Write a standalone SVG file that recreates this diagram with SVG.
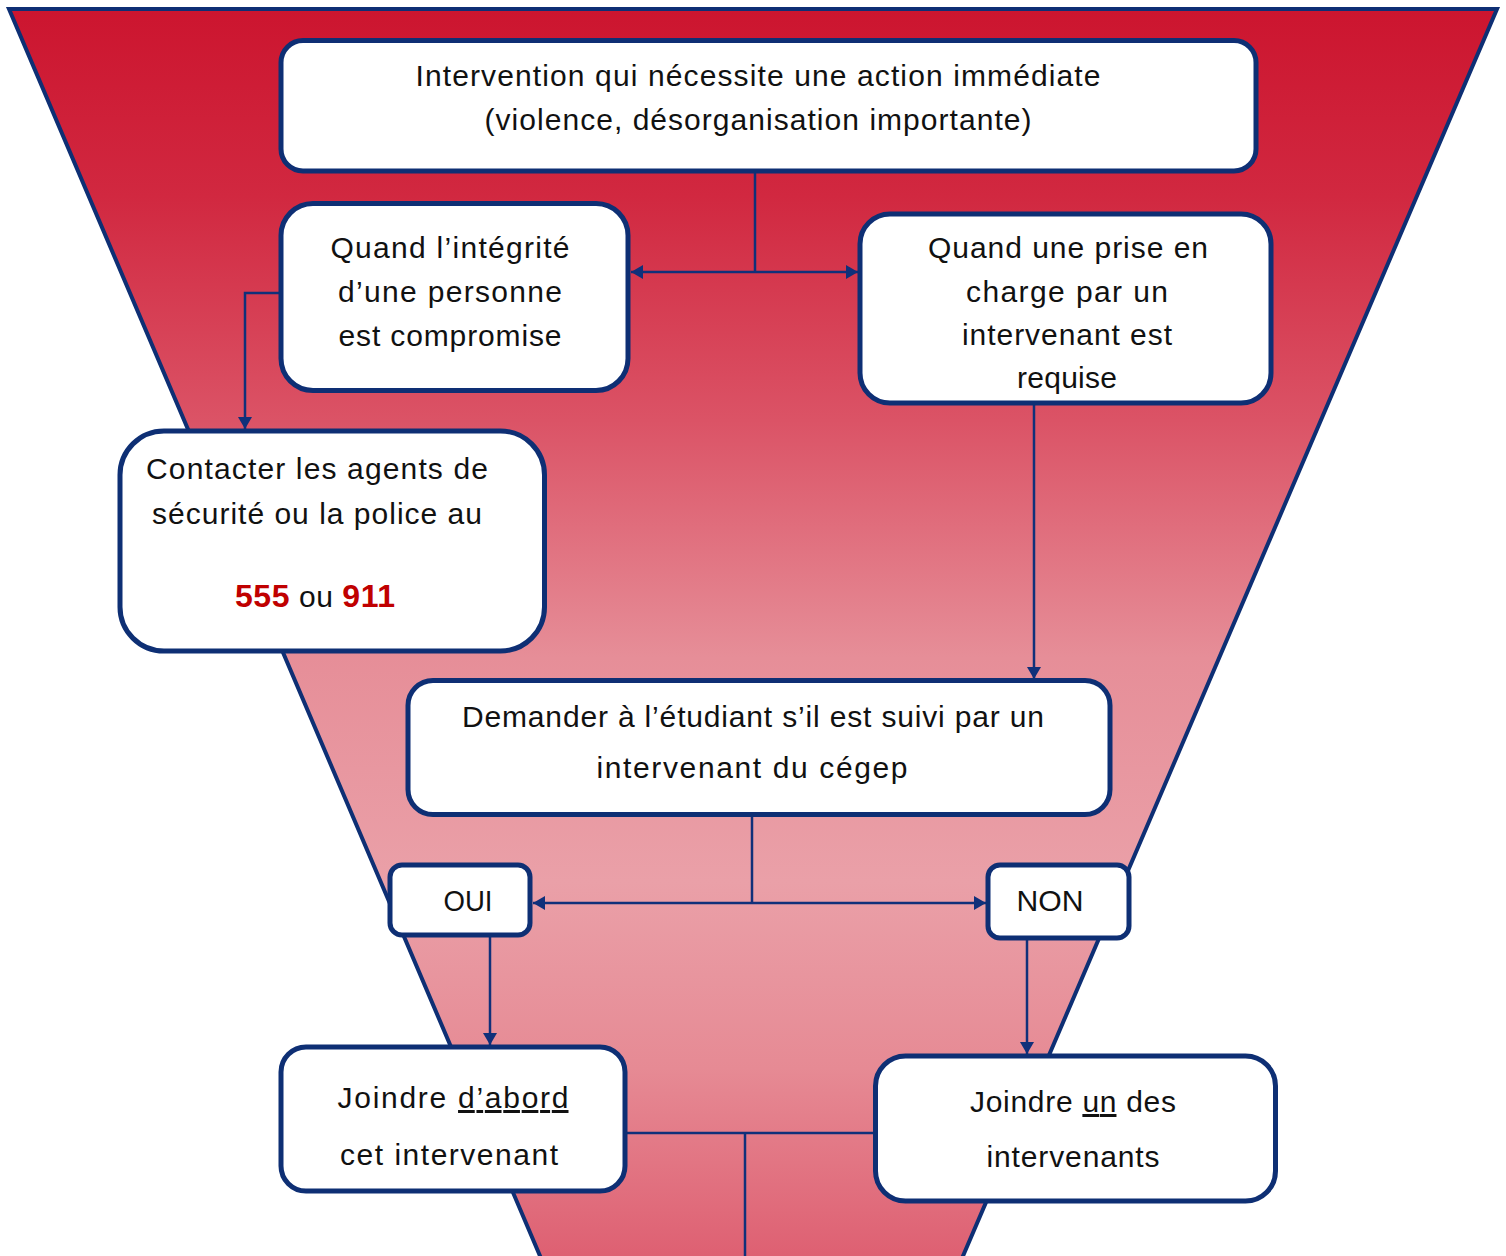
<svg xmlns="http://www.w3.org/2000/svg" width="1506" height="1256" viewBox="0 0 1506 1256">
<defs>
<linearGradient id="funnelGrad" gradientUnits="userSpaceOnUse" x1="0" y1="9" x2="0" y2="1256">
<stop offset="0" stop-color="#CC152F"/>
<stop offset="0.15" stop-color="#D12840"/>
<stop offset="0.33" stop-color="#DB5366"/>
<stop offset="0.52" stop-color="#E68E98"/>
<stop offset="0.7" stop-color="#EAA0A8"/>
<stop offset="0.85" stop-color="#E68A94"/>
<stop offset="1" stop-color="#DE6072"/>
</linearGradient>
<marker id="arrow" markerUnits="userSpaceOnUse" markerWidth="14" markerHeight="14" refX="12" refY="7" orient="auto">
<path d="M0,0 L12,7 L0,14 Z" fill="#10307A"/>
</marker>
</defs>
<style>
.box{fill:#FFFFFF;stroke:#0E2F74;stroke-width:5}
.conn{fill:none;stroke:#10307A;stroke-width:2.5}
.t{font-family:"Liberation Sans",Arial,sans-serif;font-size:30px;fill:#111111;text-anchor:middle}
.yn{font-family:"Liberation Sans",Arial,sans-serif;font-size:29px;fill:#111111;text-anchor:middle}
.num{font-family:"Liberation Sans",Arial,sans-serif;font-size:32px;font-weight:bold;fill:#C00000}
</style>
<path id="funnel" d="M9,9 L1497,9 L957,1270 L546,1270 Z" fill="url(#funnelGrad)" stroke="#0E2F74" stroke-width="4" stroke-linejoin="miter"/>
<g id="connectors">
<path class="conn" d="M755,171 V272"/>
<path class="conn" d="M755,272 H631" marker-end="url(#arrow)"/>
<path class="conn" d="M755,272 H858" marker-end="url(#arrow)"/>
<path class="conn" d="M281,293 H245 V429" marker-end="url(#arrow)"/>
<path class="conn" d="M1034,404 V679" marker-end="url(#arrow)"/>
<path class="conn" d="M752,815 V903"/>
<path class="conn" d="M752,903 H533" marker-end="url(#arrow)"/>
<path class="conn" d="M752,903 H986" marker-end="url(#arrow)"/>
<path class="conn" d="M490,937 V1045" marker-end="url(#arrow)"/>
<path class="conn" d="M1027,940 V1054" marker-end="url(#arrow)"/>
<path class="conn" d="M625,1133 H875"/>
<path class="conn" d="M745,1133 V1260"/>
</g>
<g id="node-intervention">
<rect class="box" x="281" y="40.5" width="975" height="130.5" rx="22"/>
<text class="t" x="758" y="86" textLength="685" lengthAdjust="spacing">Intervention qui nécessite une action immédiate</text>
<text class="t" x="758" y="130" textLength="547" lengthAdjust="spacing">(violence, désorganisation importante)</text>
</g>
<g id="node-integrite">
<rect class="box" x="281" y="203.5" width="347" height="187" rx="32"/>
<text class="t" x="450" y="258" textLength="239" lengthAdjust="spacing">Quand l’intégrité</text>
<text class="t" x="450" y="302" textLength="224" lengthAdjust="spacing">d’une personne</text>
<text class="t" x="450" y="346" textLength="223" lengthAdjust="spacing">est compromise</text>
</g>
<g id="node-prise-en-charge">
<rect class="box" x="860" y="214" width="411" height="189" rx="30"/>
<text class="t" x="1068" y="258" textLength="280" lengthAdjust="spacing">Quand une prise en</text>
<text class="t" x="1067" y="302" textLength="202" lengthAdjust="spacing">charge par un</text>
<text class="t" x="1067" y="345" textLength="210" lengthAdjust="spacing">intervenant est</text>
<text class="t" x="1067" y="388" textLength="100" lengthAdjust="spacing">requise</text>
</g>
<g id="node-contacter">
<rect class="box" x="120" y="431" width="424.5" height="220" rx="44"/>
<text class="t" x="317" y="479" textLength="342" lengthAdjust="spacing">Contacter les agents de</text>
<text class="t" x="317" y="524" textLength="330" lengthAdjust="spacing">sécurité ou la police au</text>
<text class="t" x="315" y="607" textLength="160" lengthAdjust="spacing"><tspan class="num">555</tspan> ou <tspan class="num">911</tspan></text>
</g>
<g id="node-demander">
<rect class="box" x="408" y="680.5" width="702" height="134" rx="25"/>
<text class="t" x="753" y="727" textLength="582" lengthAdjust="spacing">Demander à l’étudiant s’il est suivi par un</text>
<text class="t" x="752" y="778" textLength="311" lengthAdjust="spacing">intervenant du cégep</text>
</g>
<g id="node-oui">
<rect class="box" x="390" y="865" width="140" height="70" rx="12"/>
<text class="yn" x="468" y="911" textLength="49" lengthAdjust="spacingAndGlyphs">OUI</text>
</g>
<g id="node-non">
<rect class="box" x="988" y="865" width="141" height="73" rx="12"/>
<text class="yn" x="1050" y="911" textLength="67" lengthAdjust="spacingAndGlyphs">NON</text>
</g>
<g id="node-joindre-abord">
<rect class="box" x="281" y="1047" width="344" height="144" rx="25"/>
<text class="t" x="453" y="1108" textLength="231" lengthAdjust="spacing">Joindre <tspan text-decoration="underline">d’abord</tspan></text>
<text class="t" x="449" y="1165" textLength="218" lengthAdjust="spacing">cet intervenant</text>
</g>
<g id="node-joindre-un">
<rect class="box" x="875.5" y="1056" width="400" height="145" rx="30"/>
<text class="t" x="1073" y="1112" textLength="206" lengthAdjust="spacing">Joindre <tspan text-decoration="underline">un</tspan> des</text>
<text class="t" x="1073" y="1167" textLength="173" lengthAdjust="spacing">intervenants</text>
</g>
</svg>
